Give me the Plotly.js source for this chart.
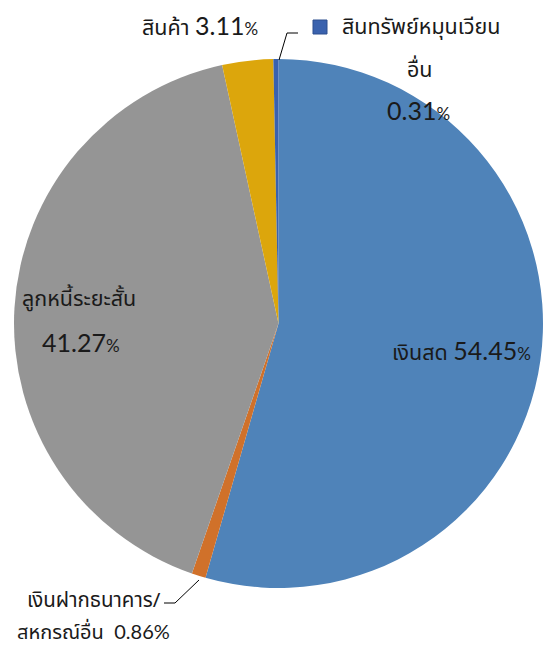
<!DOCTYPE html>
<html><head><meta charset="utf-8">
<script src="https://cdn.plot.ly/plotly-3.0.1.min.js"></script>
<style>html,body{margin:0;padding:0;background:#fff}</style>
</head><body><div id="chart" style="width:543px;height:647px"></div>
<script>
const labels = ["เงินสด", "เงินฝากธนาคาร/สหกรณ์อื่น", "ลูกหนี้ระยะสั้น", "สินค้า", "สินทรัพย์หมุนเวียนอื่น"];
const values = [54.45, 0.86, 41.27, 3.11, 0.31];
const colors = ["#4F83B9", "#D0712A", "#959595", "#DCA60C", "#3A62AE"];

const W = 543, H = 647;
const px = x => x / W, py = y => 1 - y / H;
const TH = '"Noto Sans Thai", Tahoma, "DejaVu Sans", sans-serif';
const big = v => `<span style="font-family:Lato;font-size:25px">${v.toFixed(2)}</span><span style="font-family:Lato;font-size:17px">%</span>`;
const ann = (x, y, text, xanchor, size) => ({xref:'paper', yref:'paper', x:px(x), y:py(y), text, xanchor: xanchor||'center', yanchor:'middle', showarrow:false, font:{family:TH, size:size||21.5, color:'#1a1a1a'}});

const annotations = [
  ann(140, 27, labels[3] + ' ' + big(values[3]), 'left'),
  ann(340, 27, labels[4].replace('อื่น',''), 'left'),
  ann(420, 70, 'อื่น'),
  ann(418, 110, big(values[4])),
  ann(20, 300, labels[2], 'left'),
  ann(40, 342, big(values[2]), 'left'),
  ann(390, 352, labels[0] + ' ' + big(values[0]), 'left'),
  ann(25, 600, labels[1].split('/')[0] + '/', 'left', 20.5),
  ann(15, 633, labels[1].split('/')[1] + '  ' + `<span style="font-family:Lato">${values[1].toFixed(2)}%</span>`, 'left', 20)
];

const shapes = [
  {type:'rect', xref:'paper', yref:'paper', x0:px(313), x1:px(327), y0:py(34), y1:py(20), fillcolor:colors[4], line:{color:'#2d4f8f', width:1}},
  {type:'path', xref:'paper', yref:'paper', path:`M ${px(298)} ${py(33)} L ${px(287)} ${py(33)} L ${px(279)} ${py(60)}`, line:{color:'#000', width:1}},
  {type:'path', xref:'paper', yref:'paper', path:`M ${px(164)} ${py(603)} L ${px(175)} ${py(603)} L ${px(199)} ${py(580)}`, line:{color:'#000', width:1}}
];

Plotly.newPlot('chart', [{
  type:'pie', labels, values, sort:false, direction:'clockwise', rotation:0,
  marker:{colors, line:{width:0}}, textinfo:'none', hoverinfo:'label+percent',
  domain:{x:[px(14), px(543)], y:[py(588), py(59)]}
}], {
  width:W, height:H, margin:{l:0,r:0,t:0,b:0}, showlegend:false,
  paper_bgcolor:'#fff', annotations, shapes
}, {displayModeBar:false, staticPlot:true});
</script></body></html>
